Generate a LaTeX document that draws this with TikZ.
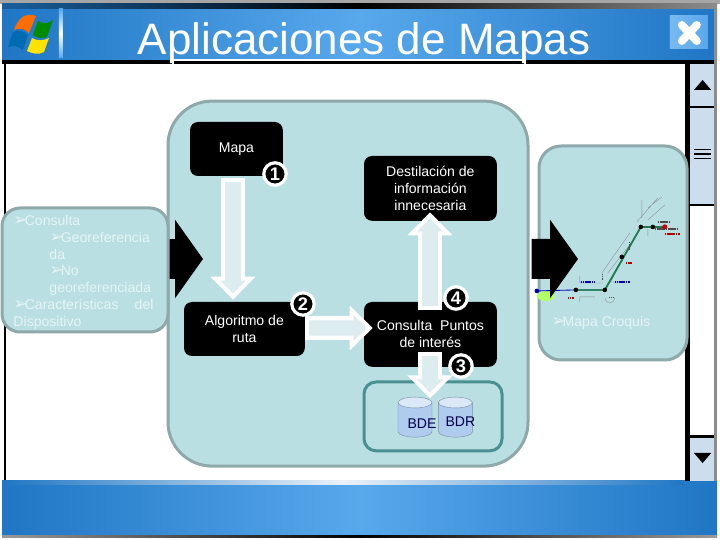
\documentclass[tikz,border=0pt]{standalone}
\usepackage{fontspec}
\setmainfont{Liberation Sans}
\newfontfamily\balafont{DejaVu Sans}
\usepackage{tikz}
\usetikzlibrary{arrows.meta,calc,positioning,shapes.geometric}
\definecolor{mapapanel}{HTML}{B9DFE2}
\definecolor{mapaborde}{HTML}{8FA9AB}
\definecolor{mapateal}{HTML}{4A8F92}
\definecolor{mapabarra}{HTML}{1F76C4}
\definecolor{mapaclaro}{HTML}{58A8EC}
\definecolor{mapascroll}{HTML}{CCDDEE}
\definecolor{mapatexto}{HTML}{E6F4F6}
\definecolor{mapaflecha}{HTML}{DCECEF}
\definecolor{mapaverde}{HTML}{1F7A4F}
\definecolor{mapacilindro}{HTML}{AFCBEE}
\newcommand{\bala}{{\balafont\fontsize{12}{12}\selectfont\char"27A2\kern-2pt}}

\begin{document}
\begin{tikzpicture}[>=Stealth,line join=round,
  font=\fontsize{10}{12}\selectfont,
  panel/.style={draw=mapaborde,fill=mapapanel,line width=.075cm,inner sep=0pt},
  caja/.style={fill=black,text=white,rounded corners=.2cm,align=center,inner sep=0pt},
  paso/.style={circle,fill=black,draw=white,line width=.08cm,text=white,inner sep=0pt,
    minimum size=.56cm,font=\fontsize{13}{13}\selectfont\bfseries},
  deposito/.style={cylinder,shape border rotate=90,shape aspect=.9,draw=mapacilindro!70!black,
    line width=.3pt,cylinder uses custom fill,
    cylinder body fill=mapacilindro,cylinder end fill=mapacilindro!45!white,
    minimum width=.85cm,minimum height=1cm,inner sep=.15cm},
  dato/.style={text=black!70!blue,inner sep=0pt},
  pale/.style={text=mapatexto,inner sep=0pt,align=left},
  bloque/.style={line width=1cm,-{Triangle[length=.7cm,width=1.93cm]}},
  flecha/.style={white,line width=.6cm,-{Triangle[length=.58cm,width=1.1cm]},
    postaction={draw=mapaflecha,line width=.38cm,shorten >=.15cm,shorten <=.1cm,
      -{Triangle[length=.33cm,width=.64cm]}}}]
\path[use as bounding box] (0,0) rectangle (18,13.5);
\fill[white] (0,0) rectangle (18,13.5);

% marco de la ventana
\fill[black!35] (0,13.4) rectangle (18,13.5);
\shade[left color=mapabarra!80!black,right color=black!45,middle color=black] (.05,13.27) rectangle (17.93,13.4);
\shade[left color=mapabarra,right color=mapabarra,middle color=mapaclaro] (.05,12) rectangle (17.93,13.27);
\fill[black] (.05,11.9) rectangle (17.93,12);
\fill[black] (.1,1.4) rectangle (.14,11.9);
\shade[left color=mapabarra,right color=mapabarra,middle color=mapaclaro] (.05,.12) rectangle (17.93,1.48);
\shade[left color=mapabarra,right color=mapabarra,middle color=mapascroll!40!white] (.05,1.38) rectangle (17.1,1.48);
\shade[left color=black!40,right color=black!40,middle color=black] (.05,.05) rectangle (17.93,.12);
\fill[black!45] (17.85,1.48) rectangle (17.93,13.27);

% barra de desplazamiento
\fill[black] (17.12,1.48) rectangle (17.25,11.9);
\fill[mapascroll] (17.25,10.85) rectangle (17.85,11.9);
\fill[mapascroll] (17.25,8.4) rectangle (17.85,10.8);
\fill[mapascroll] (17.25,1.48) rectangle (17.85,2.55);
\fill[black] (17.25,10.8) rectangle (17.85,10.85);
\fill[black] (17.25,8.35) rectangle (17.85,8.4);
\fill[black] (17.25,2.55) rectangle (17.85,2.62);
\fill[black] (17.35,11.25)--(17.78,11.25)--(17.565,11.5)--cycle;
\fill[black] (17.35,2.175)--(17.78,2.175)--(17.565,1.925)--cycle;
\foreach \y in {9.52,9.63,9.74} \fill[black] (17.35,\y) rectangle (17.78,\y+.035);

% logo y boton de cerrar
\begin{scope}[shift={(0,13.5)},x=.025cm,y=-.025cm]
  \fill[orange!85!red] (14,30) .. controls (18,18) and (26,12) .. (36,16) -- (29,33) .. controls (24,28) and (19,28) .. (14,30) -- cycle;
  \fill[green!55!black] (38,21) .. controls (43,24) and (48,24) .. (53,20) -- (47,37) .. controls (42,39) and (37,38) .. (33,35) -- cycle;
  \fill[blue!40!cyan!70!black] (13,32) .. controls (18,30) and (23,30) .. (28,35) -- (23,50) .. controls (18,46) and (13,45) .. (8,47) -- cycle;
  \fill[yellow!85!orange] (32,38) .. controls (37,41) and (43,41) .. (49,38) -- (44,52) .. controls (39,55) and (33,54) .. (27,51) -- cycle;
  \shade[top color=mapaclaro,bottom color=mapaclaro,middle color=white] (59,9) rectangle (63,58);
  \shade[left color=mapaclaro!80!white,right color=mapaclaro] (670,16) rectangle (708,49);
  \draw[white,line width=.2cm,line cap=round] (682,25)--(697,41) (697,25)--(682,41);
  \draw[white,line width=.05cm] (173,65)--(173,60)--(525,60)--(525,65);
\end{scope}
\node[text=white,inner sep=0pt,font=\fontsize{31.3}{32}\selectfont] (titulo) at (9.1,12.43) {Aplicaciones de Mapas};

% paneles
\node[panel,rounded corners=1.1cm,minimum width=9cm,minimum height=9.125cm] (principal) at (8.7,6.41) {};
\coordinate (salida) at (3.9,7.025);
\coordinate (giro) at (5.075,7.025);
\draw[bloque] (salida)--(giro);
\node[panel,rounded corners=.45cm,minimum width=4.15cm,minimum height=3.1cm] (entrada) at (2.125,6.75) {};
\node[panel,rounded corners=.55cm,minimum width=3.7cm,minimum height=5.35cm] (croquis) at (15.325,7.175) {};

\node[pale,anchor=north west,text width=3.5cm] (lista) at (.33,8.13) {\bala Consulta\\
\hspace*{.9cm}\bala Georeferencia\\
\hspace*{.9cm}da\\
\hspace*{.9cm}\bala No\\
\hspace*{.9cm}georeferenciada\\
\makebox[3.5cm][s]{\bala Características\hfill del}\\
Dispositivo};
\node[pale] (mapacroquis) at (15.02,5.43) {\bala Mapa Croquis};

% mapa croquis
\begin{scope}[shift={(0,13.5)},x=.025cm,y=-.025cm]
  \fill[green!50!yellow!60] (546,296) ellipse (9 and 5);
  \draw[black!45,line width=.25pt] (642,200)--(642,218) (637,222)--(658,198) (648,208)--(662,197) (648,220)--(665,205)
    (648,229)--(648,236) (602,273)--(630,233) (608,273)--(636,237) (580,276)--(580,283)--(603,283)
    (630,282)--(610,282)--(614,276) (580,297)--(595,297) (580,297)--(580,302) (605,298) arc[start angle=180,end angle=0,radius=5];
  \draw[mapaverde!60!mapateal,line width=1pt] (576,290)--(605,290);
  \draw[blue!70!black,line width=.6pt] (537,291)--(576,290);
  \draw[mapaverde,line width=1.3pt] (605,290)--(641,227);
  \draw[mapaverde,line width=1.6pt] (641,227)--(665,227);
  \draw[blue!70!black,line width=.9pt,dash pattern=on 1pt off .3pt] (581,282)--(595,282) (615,282)--(630,282);
  \draw[red!70!black,line width=.9pt,dash pattern=on 1pt off .3pt] (568,298)--(574,298) (626,263)--(632,263) (665,234)--(680,234);
  \draw[black!70,line width=.8pt,dash pattern=on 1pt off .3pt] (658,222)--(669,222) (655,229)--(678,229) (609,298)--(613,298) (630,242)--(630,250) (603,274)--(603,280);
  \foreach \px/\py in {576/290,605/290,622/257,641/227,653/227} \fill[black] (\px,\py) circle (2.3);
  \fill[blue!70!black] (537,291) circle (2.3);
  \fill[red!80!black] (665,227) circle (2.6);
\end{scope}
\coordinate (meta) at (14.45,7.025);
\draw[bloque] ($(principal.east)+(.05,.615)$)--(meta);

% cajas
\node[caja,minimum width=2.32cm,minimum height=1.35cm] (mapa) at (5.91,9.775) {Mapa};
\node[caja,minimum width=3.02cm,minimum height=1.35cm] (algoritmo) at (6.11,5.275) {Algoritmo de\\ruta};
\node[caja,minimum width=3.32cm,minimum height=1.62cm] (destilacion) at (10.76,8.79) {Destilación de\\información\\innecesaria};
\node[caja,minimum width=3.32cm,minimum height=1.62cm] (consulta) at (10.76,5.14) {Consulta\ \ Puntos\\de interés};
\node[draw=mapateal,line width=.075cm,rounded corners=.3cm,minimum width=3.45cm,minimum height=1.72cm,inner sep=0pt] (almacen) at (10.825,3.09) {};
\node[deposito] (bde) at (10.375,2.95) {};
\node[deposito,right=.15cm of bde] (bdr) {};
\node[dato] (textobde) at ($(bde)+(.175,-.03)$) {BDE};
\node[dato] (textobdr) at ($(bdr)+(.125,0)$) {BDR};

% flechas
\draw[flecha] ($(mapa.south)+(-.085,-.05)$)--($(algoritmo.north)+(-.285,.05)$);
\draw[flecha] ($(algoritmo.east)+(0,.025)$)--($(consulta.west)+(.225,.16)$);
\draw[flecha] ($(consulta.north)+(-.01,-.2)$)--($(destilacion.south)+(-.01,.22)$);
\draw[flecha] ($(consulta.south)+(-.01,.37)$)--($(almacen.north)+(-.075,-.45)$);

% pasos
\node[paso] (paso1) at (6.875,9.15) {1};
\node[paso] (paso2) at (7.575,5.9) {2};
\node[paso] (paso3) at (11.525,4.35) {3};
\node[paso] (paso4) at (11.4,6.05) {4};
\end{tikzpicture}
\end{document}
